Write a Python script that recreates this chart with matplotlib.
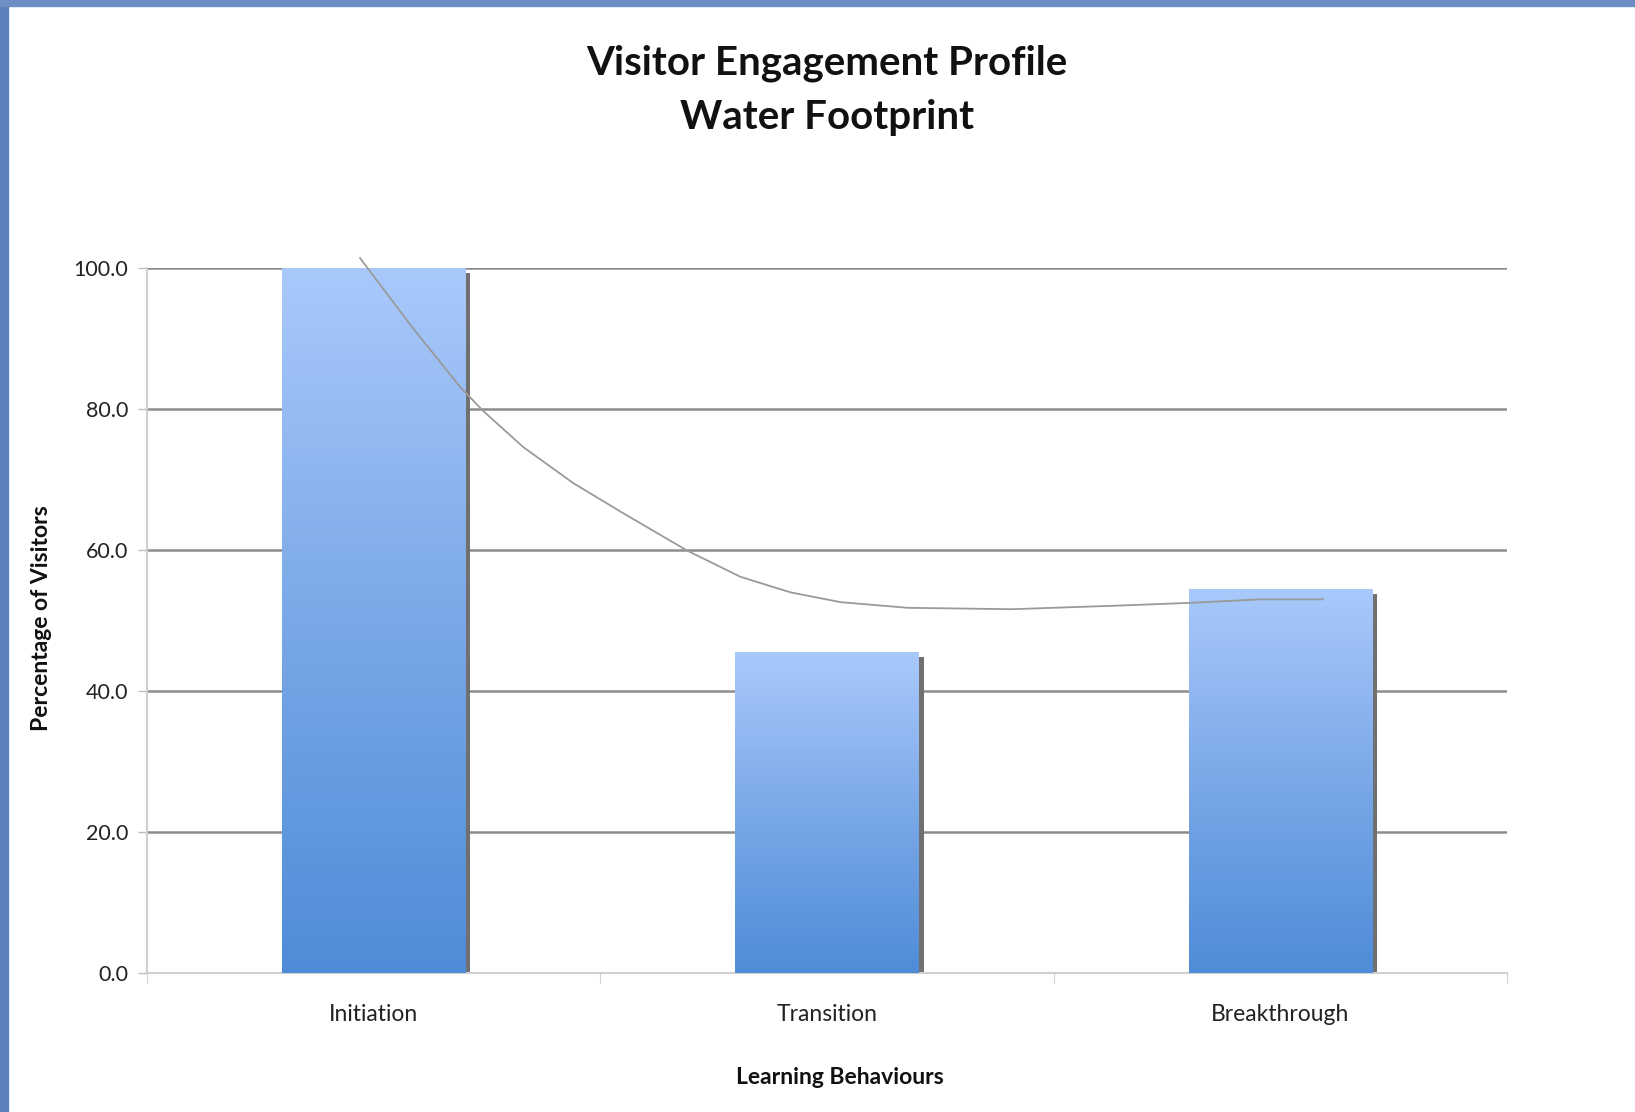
import numpy as np
import matplotlib
matplotlib.use("Agg")
from matplotlib import pyplot as plt
from matplotlib import patheffects as pe
from matplotlib.colors import LinearSegmentedColormap
from matplotlib.patches import Rectangle

plt.rcParams['font.family'] = ['Lato', 'DejaVu Sans']

# Data
categories = ["Initiation", "Transition", "Breakthrough"]
percent = [100.0, 45.5, 54.5]

# hand drawn trend curve
trend_x = [-0.03, 0.085, 0.191, 0.242, 0.330, 0.440, 0.551, 0.692, 0.809, 0.919,
           1.030, 1.178, 1.407, 1.637, 1.800, 1.957, 2.094]
trend_y = [101.4, 91.6, 83.1, 79.7, 74.6, 69.5, 65.2, 59.9, 56.2, 54.0,
           52.6, 51.8, 51.6, 52.1, 52.5, 53.0, 53.0]

yticks = [0, 20, 40, 60, 80, 100]

fig = plt.figure(figsize=(16.35, 11.12), dpi=100)
ax = fig.add_axes([0.0899, 0.125, 0.8318, 0.634])

# blue frame bits round the slide
fig.patches.append(Rectangle((0, 0), 8 / 1635, 1, transform=fig.transFigure,
                             color="#5b80bb", zorder=5))
fig.patches.append(Rectangle((0, 1 - 6 / 1112), 1, 6 / 1112, transform=fig.transFigure,
                             color="#6d8fc4", zorder=5))

x = np.arange(len(categories))
bars = ax.bar(x, percent, width=0.405, color="#5a94dc", zorder=2)

cmap = LinearSegmentedColormap.from_list("bar", ["#4f8cd7", "#7aa8e8", "#a9c9fb"])
grad = np.linspace(0, 1, 256).reshape(-1, 1)
for b in bars:
    b.set_path_effects([pe.SimplePatchShadow(offset=(3.5, -3.5), shadow_rgbFace="#707070", alpha=1.0),
                        pe.Normal()])
    x0, w, h = b.get_x(), b.get_width(), b.get_height()
    im = ax.imshow(grad, extent=[x0, x0 + w, 0, h], origin="lower", aspect="auto",
                   cmap=cmap, zorder=3)
    im.set_clip_path(b)

ax.plot(trend_x, trend_y, color="#9a9a9a", lw=1.3, zorder=4, clip_on=False,
        solid_joinstyle="round")

ax.set_xlim(-0.5, 2.5)
ax.set_ylim(0, 100)

ax.set_yticks(yticks)
ax.set_yticklabels([f"{v:.1f}" for v in yticks], fontsize=15.5, color="#222222")
ax.yaxis.grid(True, color="#8c8c8c", lw=1.8, zorder=0)
ax.set_axisbelow(True)
ax.tick_params(axis="y", length=6.5, width=1, color="#bdbdbd", pad=7)

ax.set_xticks([-0.5, 0.5, 1.5, 2.5])
ax.set_xticklabels([])
ax.set_xticks(x, minor=True)
ax.set_xticklabels(categories, minor=True, fontsize=16.5, color="#222222")
ax.tick_params(axis="x", which="major", length=7, color="#d0d0d0")
ax.tick_params(axis="x", which="minor", length=0, pad=22)

for s in ["top", "right"]:
    ax.spines[s].set_visible(False)
ax.spines["left"].set_color("#d0d0d0")
ax.spines["bottom"].set_color("#d0d0d0")
ax.spines["left"].set_linewidth(1.5)
ax.spines["bottom"].set_linewidth(1.5)

fig.text(827 / 1635, 1 - 63 / 1112, "Visitor Engagement Profile", ha="center", va="center",
         fontsize=29, fontweight="bold", color="#111111")
fig.text(827 / 1635, 1 - 118 / 1112, "Water Footprint", ha="center", va="center",
         fontsize=29, fontweight="bold", color="#111111")
fig.text(840 / 1635, 1 - 1077 / 1112, "Learning Behaviours", ha="center", va="center",
         fontsize=16.5, fontweight="bold", color="#111111")
fig.text(42 / 1635, 1 - 618 / 1112, "Percentage of Visitors", ha="center", va="center",
         rotation=90, fontsize=16.5, fontweight="bold", color="#111111")

fig.savefig("out.png", dpi=100, facecolor="white")
